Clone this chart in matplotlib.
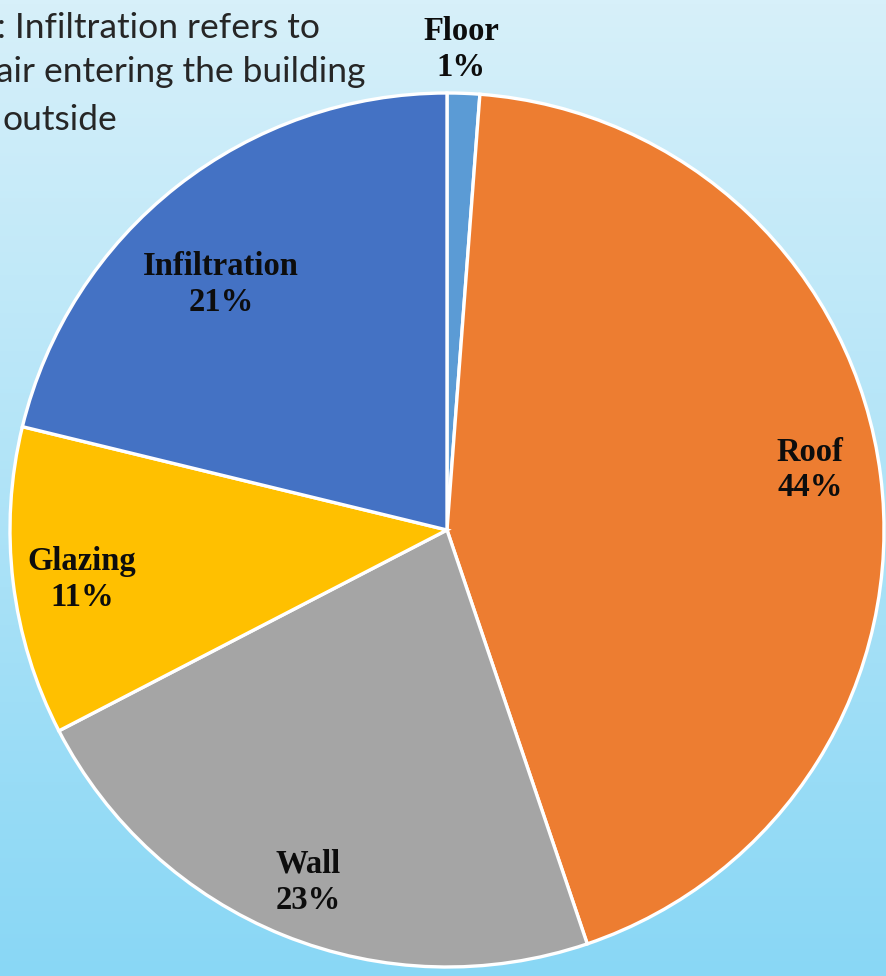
import numpy as np
import matplotlib.pyplot as plt
from matplotlib.colors import LinearSegmentedColormap

categories = ['Floor', 'Roof', 'Wall', 'Glazing', 'Infiltration']
shares = [1.2, 43.6, 22.6, 11.4, 21.2]
colors = ['#5B9BD5', '#ED7D31', '#A5A5A5', '#FFC000', '#4472C4']
# label placement: fraction of radius, and angle nudge (deg) from the wedge middle
label_dist = [1.10, 0.842, 0.866, 0.843, 0.763]
label_nudge = [0.5, 2.2, 0.5, 0.9, 4.5]

note_lines = [': Infiltration refers to', 'air entering the building', 'outside']

W, H = 887, 976
fig = plt.figure(figsize=(W / 100, H / 100), dpi=100)
ax = fig.add_axes([0, 0, 1, 1])
ax.set_axis_off()

# background gradient, light at top, deeper blue at bottom
bg = LinearSegmentedColormap.from_list('bg', ['#89D7F5', '#D7F0FA'])
grad = np.linspace(0, 1, 256).reshape(-1, 1)
ax.imshow(grad, cmap=bg, extent=[0, W, 0, H], origin='lower', aspect='auto', zorder=0)

cx, cy, r = 447, H - 530, 437
wedges, _ = ax.pie(shares, colors=colors, startangle=90, counterclock=False,
                   center=(cx, cy), radius=r,
                   wedgeprops=dict(edgecolor='white', linewidth=2.4))
for w in wedges:
    w.set_zorder(2)

for w, name, v, d, nd in zip(wedges, categories, shares, label_dist, label_nudge):
    ang = np.deg2rad((w.theta1 + w.theta2) / 2 + nd)
    x = cx + d * r * np.cos(ang)
    y = cy + d * r * np.sin(ang)
    ax.text(x, y, f'{name}\n{round(v)}%', ha='center', va='center',
            family='Liberation Serif', weight='bold', fontsize=23.5,
            linespacing=1.2, color='#0d0d0d', zorder=3)

note_y = [H - 28, H - 72, H - 120]
note_x = [-3, -4, 3]
for t, x, y in zip(note_lines, note_x, note_y):
    ax.text(x, y, t, ha='left', va='center', family='Lato', fontsize=25.5,
            color='#262626', zorder=3)

ax.set_xlim(0, W)
ax.set_ylim(0, H)
fig.savefig('out.png', dpi=100)
